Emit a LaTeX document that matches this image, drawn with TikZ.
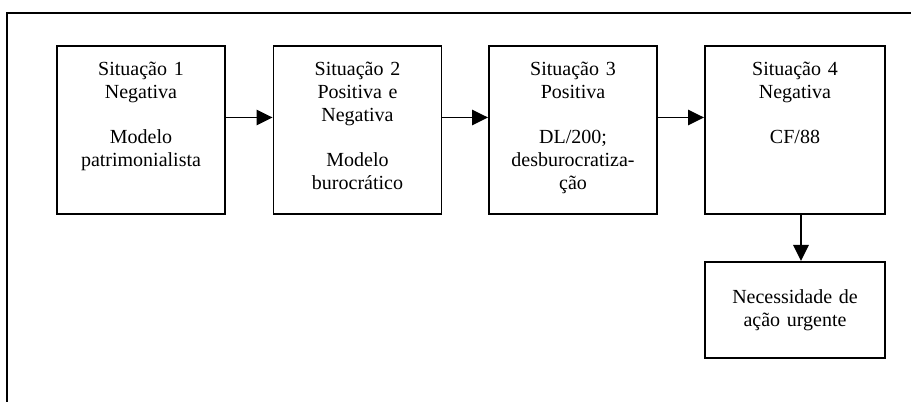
\documentclass[tikz,border=0pt]{standalone}
\usepackage{fontspec}
\setmainfont{Liberation Serif}
\usetikzlibrary{arrows.meta, positioning, calc}

\begin{document}
\begin{tikzpicture}[>={Triangle[length=12pt, width=11.5pt]}, x=0.75pt, y=-0.75pt, line width=1.4pt,
        font=\fontsize{15}{17}\selectfont,
        sitbox/.style={draw, anchor=north, inner sep=0pt, text width=120pt, minimum width=126pt,
            align=center, text height=22.5pt, text depth=103.5pt},
        endbox/.style={draw, anchor=north, inner sep=0pt, text width=125pt, minimum width=135pt,
            minimum height=72pt, align=center}]
        \useasboundingbox (0,0) rectangle (911,402);

        % Frame
        \draw (911,13) -- (7,13) -- (7,402);

        % Situations
        \node [sitbox] (s1) at (141,45) {Situação 1\\ Negativa\\[17pt] Modelo\\ patrimonialista};
        \node [sitbox] (s2) at (357.5,45) {Situação 2\\ Positiva e\\ Negativa\\[17pt] Modelo\\ burocrático};
        \node [sitbox] (s3) at (573,45) {Situação 3\\ Positiva\\[17pt] DL/200;\\ desburocratiza-\\ ção};
        \node [sitbox, minimum width=135pt] (s4) at (795,45) {Situação 4\\ Negativa\\[17pt] CF/88};

        % Consequence
        \node [endbox] (nec) at (795,261) {Necessidade de\\ ação urgente};

        % Arrows
        \coordinate (arrowrow) at (0,117.5);
        \coordinate (downcol) at (801,0);
        \draw [->] (s1.east |- arrowrow) -- (s2.west |- arrowrow);
        \draw [->] (s2.east |- arrowrow) -- (s3.west |- arrowrow);
        \draw [->] (s3.east |- arrowrow) -- (s4.west |- arrowrow);
        \draw [->] (s4.south -| downcol) -- (nec.north -| downcol);
    \end{tikzpicture}
\end{document}
